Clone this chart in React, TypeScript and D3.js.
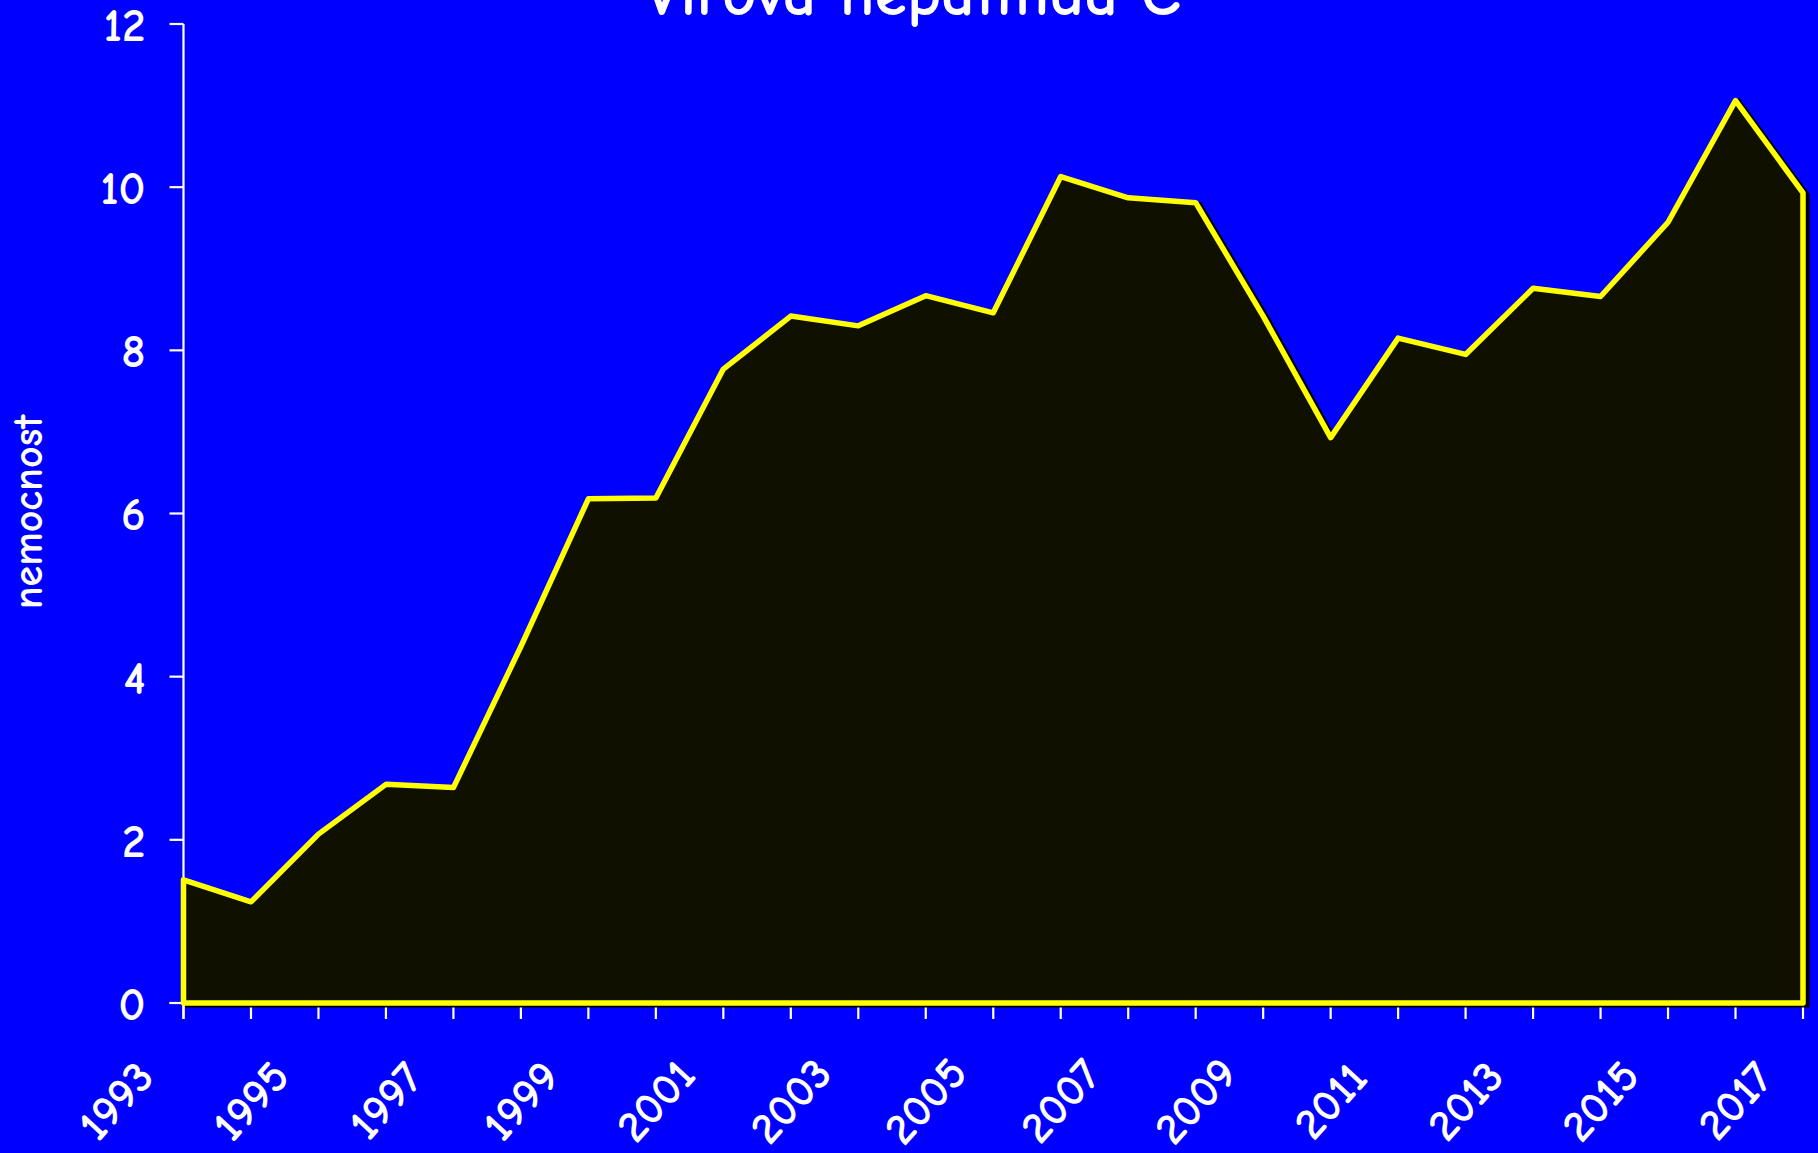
import React, { useEffect, useRef } from "react";
import * as d3 from "d3";

const years: number[] = [1993,1994,1995,1996,1997,1998,1999,2000,2001,2002,2003,2004,2005,2006,2007,2008,2009,2010,2011,2012,2013,2014,2015,2016,2017];
const values: number[] = [1.51,1.24,2.07,2.68,2.64,4.37,6.18,6.19,7.77,8.42,8.30,8.67,8.46,10.13,9.87,9.81,8.42,6.93,8.15,7.95,8.76,8.66,9.57,11.06,9.93];
const yTicks: number[] = [0,2,4,6,8,10,12];
const xLabelYears: number[] = [1993,1995,1997,1999,2001,2003,2005,2007,2009,2011,2013,2015,2017];
const title = "Virová hepatitida C";
const yTitle = "nemocnost";

const W = 1818, H = 1153;
const FONT = "'Comic Sans MS', 'Comic Neue', 'Noto Sans', 'DejaVu Sans', sans-serif";

export default function App() {
  const ref = useRef<SVGSVGElement>(null);
  useEffect(() => {
    document.body.style.margin = "0";
    const svg = d3.select(ref.current);
    svg.selectAll("*").remove();
    const x = d3.scaleLinear().domain([1993, 2017]).range([183.5, 1803]);
    const y = d3.scaleLinear().domain([0, 12]).range([1003, 24]);

    svg.append("rect").attr("width", W).attr("height", H).attr("fill", "#0000ff");

    const data = years.map((yr, i) => ({ yr, v: values[i] }));
    const area = d3.area<{ yr: number; v: number }>().x(d => x(d.yr)).y0(y(0)).y1(d => y(d.v));
    const pts: [number, number][] = [
      [x(years[0]), y(0)],
      ...data.map(d => [x(d.yr), y(d.v)] as [number, number]),
      [x(years[years.length - 1]), y(0)],
    ];

    // axes
    const g = svg.append("g");
    g.append("line").attr("x1", x(1993)).attr("x2", x(1993)).attr("y1", y(12)).attr("y2", y(0) + 16)
      .attr("stroke", "#fff").attr("stroke-width", 2.2);
    g.append("line").attr("x1", x(1993) - 14).attr("x2", x(2017)).attr("y1", y(0)).attr("y2", y(0))
      .attr("stroke", "#fff").attr("stroke-width", 2.2);
    yTicks.forEach(t => {
      g.append("line").attr("x1", x(1993) - 14).attr("x2", x(1993)).attr("y1", y(t)).attr("y2", y(t))
        .attr("stroke", "#fff").attr("stroke-width", 2.2);
      g.append("text").attr("x", x(1993) - 38).attr("y", y(t)).attr("dy", "0.36em")
        .attr("text-anchor", "end").attr("fill", "#fff").attr("font-family", FONT)
        .attr("font-weight", "bold").attr("font-size", 47).text(String(t));
    });
    years.forEach(yr => {
      g.append("line").attr("x1", x(yr)).attr("x2", x(yr)).attr("y1", y(0)).attr("y2", y(0) + 16)
        .attr("stroke", "#fff").attr("stroke-width", 2.2);
    });
    const step = x(1994) - x(1993);
    xLabelYears.forEach(yr => {
      const cx = x(yr) - step - 1, cy = y(0) + 97;
      g.append("text").attr("transform", `translate(${cx},${cy}) rotate(-48)`)
        .attr("text-anchor", "middle").attr("dy", "0.36em").attr("fill", "#fff")
        .attr("font-family", FONT).attr("font-weight", "bold").attr("font-size", 45).text(String(yr));
    });

    // shadow
    svg.append("polygon").attr("points", pts.map(p => `${p[0] + 4},${p[1] + 2}`).join(" "))
      .attr("fill", "#000").attr("stroke", "#000").attr("stroke-width", 5);
    // area
    svg.append("path").datum(data).attr("d", area).attr("fill", "#101000");
    svg.append("polygon").attr("points", pts.map(p => p.join(",")).join(" "))
      .attr("fill", "none").attr("stroke", "#ffff00").attr("stroke-width", 5.5).attr("stroke-linejoin", "round");

    // titles
    svg.append("text").attr("x", 913).attr("y", 15).attr("text-anchor", "middle")
      .attr("fill", "#fff").attr("font-family", FONT).attr("font-weight", "bold").attr("font-size", 64)
      .attr("textLength", 536).attr("lengthAdjust", "spacingAndGlyphs")
      .text(title);
    svg.append("text").attr("transform", `translate(42,512) rotate(-90)`).attr("text-anchor", "middle")
      .attr("fill", "#fff").attr("font-family", FONT).attr("font-weight", "bold").attr("font-size", 42).text(yTitle);
  }, []);
  return (
    <svg ref={ref} width={W} height={H} style={{ display: "block", position: "absolute", left: 0, top: 0 }} />
  );
}
